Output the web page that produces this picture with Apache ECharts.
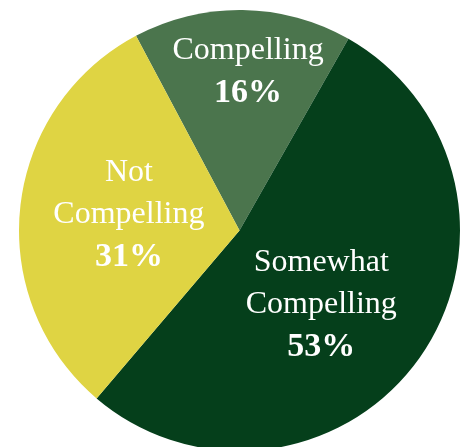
<!DOCTYPE html>
<html>
<head>
<meta charset="utf-8">
<style>
  html, body { margin: 0; padding: 0; background: #ffffff; }
  #chart { width: 461px; height: 447px; }
</style>
<script src="https://cdn.jsdelivr.net/npm/echarts@6/dist/echarts.min.js"></script>
</head>
<body>
<div id="chart"></div>
<script>
// Survey response shares (percent)
const categories = ['Compelling', 'Somewhat\nCompelling', 'Not\nCompelling'];
const shares = [16, 53, 31];
const sliceColors = ['#4b754d', '#053f1b', '#dfd443'];
// Nudge each label from its default inner spot
const labelOffsets = [[7, -45], [-11, 10], [2, -3]];

const chart = echarts.init(document.getElementById('chart'), null, { renderer: 'canvas' });

const data = categories.map((name, i) => ({
  name: name,
  value: shares[i],
  itemStyle: { color: sliceColors[i] },
  label: { offset: labelOffsets[i] }
}));

chart.setOption({
  animation: false,
  series: [{
    type: 'pie',
    center: [239.5, 230.5],
    radius: [0, 220.5],
    startAngle: 118,
    clockwise: true,
    avoidLabelOverlap: false,
    itemStyle: { borderWidth: 0 },
    label: {
      show: true,
      position: 'inside',
      formatter: p => p.name.split('\n').map(s => '{n|' + s + '}').join('\n') + '\n{p|' + p.value + '%}',
      rich: {
        n: { fontFamily: 'Liberation Serif', fontSize: 32, color: '#ffffff', lineHeight: 42, align: 'center' },
        p: { fontFamily: 'Liberation Serif', fontSize: 34, fontWeight: 'bold', color: '#ffffff', lineHeight: 43, align: 'center' }
      }
    },
    labelLine: { show: false },
    emphasis: { disabled: true },
    data: data
  }]
});
</script>
</body>
</html>
